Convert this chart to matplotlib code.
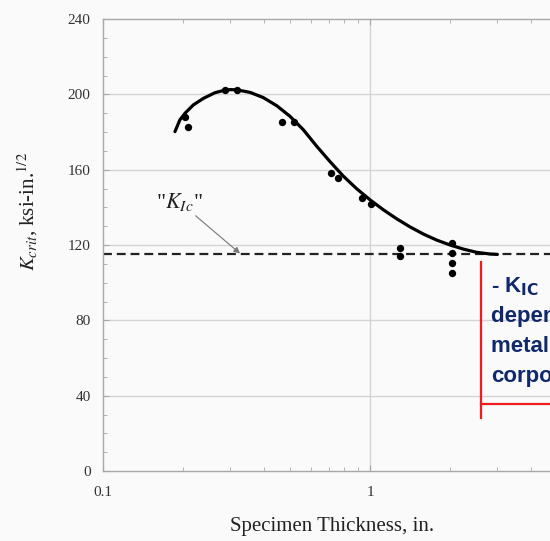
import numpy as np
import matplotlib
matplotlib.use("Agg")
import matplotlib.pyplot as plt
from matplotlib.lines import Line2D
from matplotlib.ticker import FixedLocator, NullFormatter

plt.rcParams['mathtext.fontset'] = 'stix'
plt.rcParams['font.family'] = ['Liberation Serif', 'DejaVu Serif']

# ---------------------------
# data
# ---------------------------
# measured points (thickness in., K_crit ksi-in^1/2)
pts_x = [0.203, 0.209, 0.286, 0.317, 0.467, 0.517, 0.713, 0.758, 0.935, 1.008,
         1.29, 1.29, 2.02, 2.02, 2.02, 2.02]
pts_y = [187.8, 182.5, 202.3, 202.3, 185.2, 185.2, 158.4, 155.4, 144.8, 141.6,
         118.3, 114.4, 120.9, 115.6, 110.3, 105.0]

# hand-drawn trend curve
curve_x = [0.186, 0.194, 0.203, 0.218, 0.238, 0.263, 0.286, 0.30, 0.317, 0.356,
           0.398, 0.447, 0.501, 0.562, 0.631, 0.708, 0.794, 0.891, 1.0, 1.122,
           1.259, 1.413, 1.585, 1.778, 1.995, 2.24, 2.51, 2.82, 3.0]
curve_y = [180.2, 186.4, 190.0, 194.4, 197.9, 200.9, 202.2, 202.5, 202.4, 201.0,
           198.3, 194.0, 188.4, 181.3, 172.5, 164.3, 156.6, 149.9, 144.0, 138.7,
           133.9, 129.6, 125.8, 122.6, 120.0, 117.8, 116.1, 115.2, 115.0]

k_ic = 115
y_ticks = [0, 40, 80, 120, 160, 200, 240]
x_ticks = [0.1, 1]
x_ticklabels = ["0.1", "1"]
box_lines = ["- K$_{\\mathbf{IC}}$", "dependent on", "metallurgy and", "corporate"]

W, H = 550, 541
fig = plt.figure(figsize=(W / 100, H / 100), dpi=100, facecolor='#fafafa')
ax = fig.add_axes([103 / W, 70 / H, 534 / W, 452 / H])
ax.set_facecolor('#fafafa')

ax.set_xscale('log')
ax.set_xlim(0.1, 10)
ax.set_ylim(0, 240)

# grid: horizontal lines + the one vertical at 1
for yv in y_ticks[1:-1]:
    ax.axhline(yv, color='#d4d4d4', lw=1.0, zorder=0)
ax.axvline(1, color='#d4d4d4', lw=1.0, zorder=0)

ax.plot(curve_x, curve_y, color='black', lw=2.3, zorder=3,
        solid_capstyle='round', solid_joinstyle='round')
ax.scatter(pts_x, pts_y, s=28, color='black', zorder=4, linewidths=0)
ax.axhline(k_ic, color='#222222', lw=1.6, dashes=(4, 2.2), zorder=2)

ax.annotate('"$K_{Ic}$"', xy=(0.326, k_ic + 0.5), xytext=(0.158, 137),
            fontsize=16, color='#222222', ha='left', va='bottom',
            arrowprops=dict(arrowstyle='-|>', color='#777777', lw=0.8,
                            mutation_scale=9, shrinkA=0, shrinkB=0),
            zorder=5)

for sp in ax.spines.values():
    sp.set_color('#a8a8a8')
    sp.set_linewidth(1.0)

ax.yaxis.set_major_locator(FixedLocator(y_ticks))
ax.yaxis.set_minor_locator(FixedLocator(np.arange(0, 241, 10)))
ax.set_xticks(x_ticks)
ax.set_xticklabels(x_ticklabels)
ax.xaxis.set_minor_formatter(NullFormatter())
ax.tick_params(which='both', direction='in', color='#a8a8a8', top=True, right=True)
ax.tick_params(which='major', length=4, labelsize=11, labelcolor='#333333')
ax.tick_params(which='minor', length=3)
ax.tick_params(axis='y', pad=9)
ax.tick_params(axis='x', pad=11)

fig.text(28 / W, 1 - 212 / H, '$K_{crit}$, ksi-in.$^{1/2}$', rotation=90,
         ha='center', va='center', fontsize=15, color='#222222')
fig.text(332 / W, 1 - 527 / H, 'Specimen Thickness, in.', ha='center',
         va='center', fontsize=15, color='#222222')

# red framed note, cut by the right edge as in the source slide
red = '#ee1c1c'
fig.add_artist(Line2D([481 / W, 481 / W], [1 - 262 / H, 1 - 418 / H],
                      color=red, lw=1.6, transform=fig.transFigure))
fig.add_artist(Line2D([481 / W, 1.05], [1 - 404 / H, 1 - 404 / H],
                      color=red, lw=1.6, transform=fig.transFigure))
baselines = [292, 322, 352, 382]
for txt, yb in zip(box_lines, baselines):
    fig.text(491 / W, 1 - yb / H, txt, ha='left', va='baseline', fontsize=16,
             fontweight='bold', color='#10296b', family='Liberation Sans',
             math_fontfamily='dejavusans')

fig.savefig('out.png', dpi=100, facecolor=fig.get_facecolor())
